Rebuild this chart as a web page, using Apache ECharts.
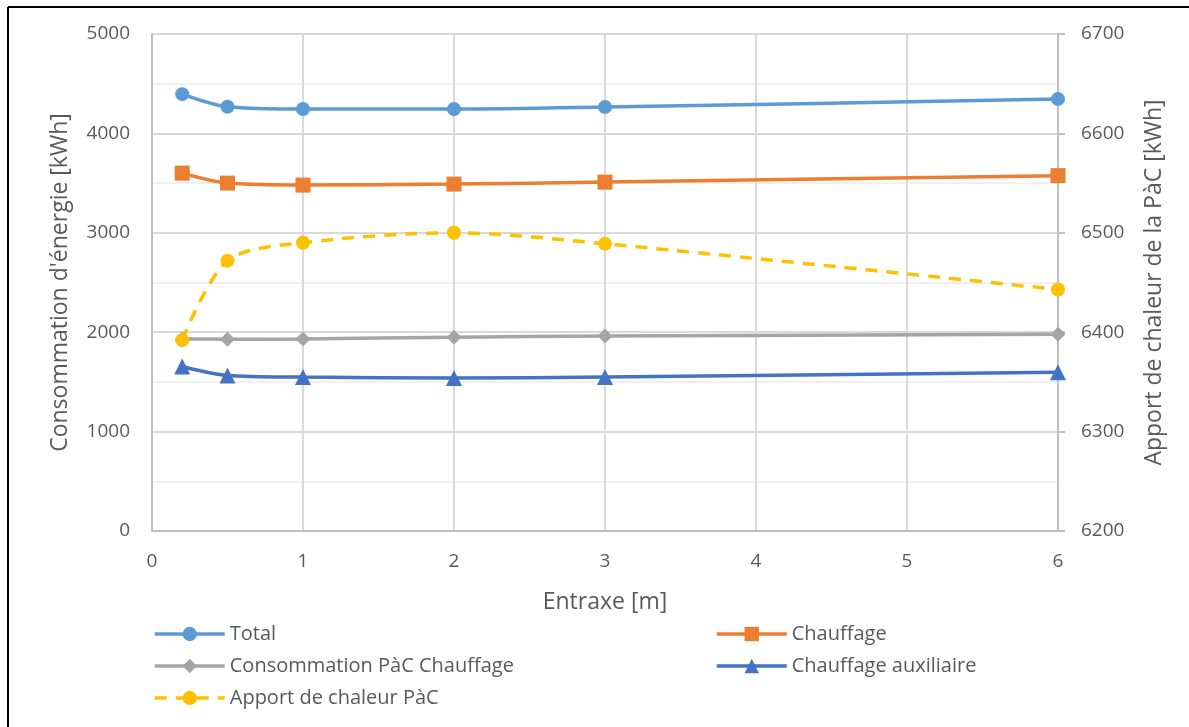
<!DOCTYPE html>
<html>
<head>
<meta charset="utf-8">
<script src="https://cdn.jsdelivr.net/npm/echarts@6/dist/echarts.min.js"></script>
<style>
  html, body { margin: 0; padding: 0; background: #fff; }
  #main { width: 1189px; height: 727px; }
</style>
</head>
<body>
<div id="main"></div>
<script>
// entraxe [m]
const entraxe = [0.2, 0.5, 1, 2, 3, 6];
const total = [4395, 4268, 4245, 4245, 4265, 4345];
const chauffage = [3600, 3500, 3480, 3490, 3510, 3575];
const consoPac = [1932, 1930, 1932, 1950, 1962, 1980];
const chauffageAux = [1655, 1565, 1549, 1538, 1549, 1598];
const apportPac = [6392, 6472, 6490, 6500, 6489, 6443];

const grey = '#595959';
const font = 'Open Sans, Noto Sans, sans-serif';

function pairs(xs, ys) {
  return xs.map((x, i) => [x, ys[i]]);
}

const plain = v => String(v);

const chart = echarts.init(document.getElementById('main'));

const legendBase = {
  top: 619, orient: 'vertical',
  itemWidth: 70, itemHeight: 18, itemGap: 12,
  lineStyle: { width: 3.5 },
  textStyle: { fontSize: 20, color: grey, fontFamily: font }
};

chart.setOption({
  animation: false,
  textStyle: { fontFamily: font },
  grid: { left: 152, right: 131, top: 34, bottom: 196 },
  legend: [
    Object.assign({}, legendBase, {
      left: 148,
      data: ['Total', 'Consommation PàC Chauffage', 'Apport de chaleur PàC']
    }),
    Object.assign({}, legendBase, {
      left: 710,
      data: ['Chauffage', 'Chauffage auxiliaire']
    })
  ],
  xAxis: {
    type: 'value', min: 0, max: 6, interval: 1,
    name: 'Entraxe [m]', nameLocation: 'middle', nameGap: 60,
    nameTextStyle: { fontSize: 23, color: grey },
    axisLine: { lineStyle: { color: '#bfbfbf', width: 2 } },
    axisTick: { show: false },
    axisLabel: { fontSize: 19, color: grey, margin: 21, formatter: plain },
    splitLine: { lineStyle: { color: '#d9d9d9', width: 2 } }
  },
  yAxis: [
    {
      type: 'value', min: 0, max: 5000, interval: 1000,
      name: "Consommation d'énergie [kWh]", nameLocation: 'middle', nameGap: 80,
      nameTextStyle: { fontSize: 23, color: grey },
      axisLine: { show: true, lineStyle: { color: '#bfbfbf', width: 2 } },
      axisTick: { show: false },
      axisLabel: { fontSize: 19, color: grey, margin: 22, formatter: plain },
      splitLine: { lineStyle: { color: '#d9d9d9', width: 2 } },
      minorTick: { show: false, splitNumber: 2 },
      minorSplitLine: { show: true, lineStyle: { color: '#f0f0f0', width: 2 } }
    },
    {
      type: 'value', min: 6200, max: 6700, interval: 100,
      name: 'Apport de chaleur de la PàC [kWh]', nameLocation: 'middle', nameGap: 85,
      nameTextStyle: { fontSize: 23, color: grey },
      axisLine: { show: true, lineStyle: { color: '#bfbfbf', width: 2 } },
      axisTick: { show: true, length: 7, lineStyle: { color: '#bfbfbf', width: 2 } },
      axisLabel: { fontSize: 19, color: grey, margin: 23, formatter: plain },
      splitLine: { show: false }
    }
  ],
  series: [
    {
      name: 'Total', type: 'line', smooth: 0.3,
      data: pairs(entraxe, total),
      symbol: 'circle', symbolSize: 14,
      itemStyle: { color: '#5b9bd5' },
      lineStyle: { width: 3.5, color: '#5b9bd5' }
    },
    {
      name: 'Chauffage', type: 'line', smooth: 0.3,
      data: pairs(entraxe, chauffage),
      symbol: 'rect', symbolSize: 15,
      itemStyle: { color: '#ed7d31' },
      lineStyle: { width: 3.5, color: '#ed7d31' }
    },
    {
      name: 'Consommation PàC Chauffage', type: 'line', smooth: 0.3,
      data: pairs(entraxe, consoPac),
      symbol: 'diamond', symbolSize: 15,
      itemStyle: { color: '#a5a5a5' },
      lineStyle: { width: 3.5, color: '#a5a5a5' }
    },
    {
      name: 'Chauffage auxiliaire', type: 'line', smooth: 0.3,
      data: pairs(entraxe, chauffageAux),
      symbol: 'triangle', symbolSize: 16,
      itemStyle: { color: '#4472c4' },
      lineStyle: { width: 3.5, color: '#4472c4' }
    },
    {
      name: 'Apport de chaleur PàC', type: 'line', smooth: 0.3, yAxisIndex: 1,
      data: pairs(entraxe, apportPac),
      symbol: 'circle', symbolSize: 14,
      itemStyle: { color: '#ffc000' },
      lineStyle: { width: 3.5, color: '#ffc000', type: [12, 9] }
    }
  ],
  graphic: [
    { type: 'line', shape: { x1: 8, y1: 7, x2: 1189, y2: 7 }, style: { stroke: '#000', lineWidth: 2 } },
    { type: 'line', shape: { x1: 8, y1: 7, x2: 8, y2: 727 }, style: { stroke: '#000', lineWidth: 2 } }
  ]
});
</script>
</body>
</html>
